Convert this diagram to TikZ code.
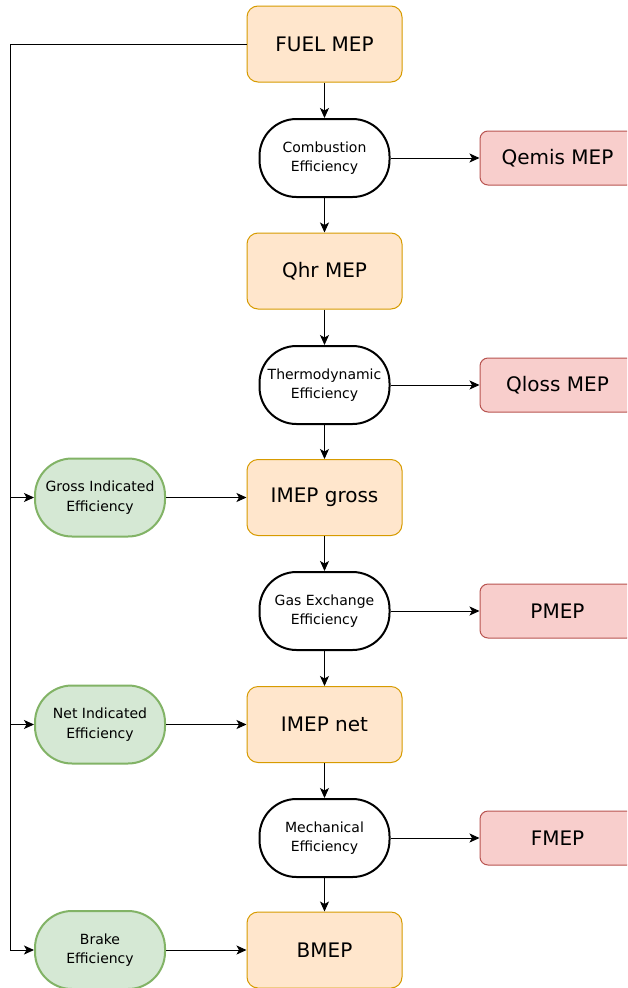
\documentclass[tikz,border=0pt]{standalone}
\usepackage{fontspec}
\setmainfont{DejaVu Sans}
\usetikzlibrary{arrows.meta,positioning}
\definecolor{mepfill}{HTML}{FFE6CC}
\definecolor{mepdraw}{HTML}{D79B00}
\definecolor{lossfill}{HTML}{F8CECC}
\definecolor{lossdraw}{HTML}{B85450}
\definecolor{efffill}{HTML}{D5E8D4}
\definecolor{effdraw}{HTML}{82B366}
\tikzset{
  mep/.style={draw=mepdraw, fill=mepfill, line width=1pt, rounded corners=11pt,
    minimum width=155pt, minimum height=76pt, inner sep=0pt,
    font=\fontsize{20pt}{24pt}\selectfont},
  loss/.style={draw=lossdraw, fill=lossfill, line width=1pt, rounded corners=8pt,
    minimum width=155pt, minimum height=54pt, inner sep=0pt,
    font=\fontsize{20pt}{24pt}\selectfont},
  stage/.style={draw=black, fill=white, line width=2pt, rounded corners=37pt,
    minimum width=130pt, minimum height=78pt, inner sep=0pt, align=center,
    font=\fontsize{14pt}{19.5pt}\selectfont},
  overall/.style={stage, draw=effdraw, fill=efffill},
  flow/.style={line width=1pt, -{Stealth[length=10pt,width=9pt,inset=2.5pt]}}
}
\begin{document}
\begin{tikzpicture}[x=1pt, y=-1pt]
\clip (0,0) rectangle (627,988);
\fill[white] (0,0) rectangle (627,988);

% main column of mean effective pressures
\node[mep] (fuel)  at (324.5,44)  {FUEL MEP};
\node[mep] (qhr)   at (324.5,271) {Qhr MEP};
\node[mep] (imepg) at (324.5,497.5) {IMEP gross};
\node[mep] (imepn) at (324.5,724.5) {IMEP net};
\node[mep] (bmep)  at (324.5,950) {BMEP};

% conversion stages between them
\node[stage] (comb)   at (324.5,158) {Combustion\\Efficiency};
\node[stage] (thermo) at (324.5,385) {Thermodynamic\\Efficiency};
\node[stage] (gasex)  at (324.5,611) {Gas Exchange\\Efficiency};
\node[stage] (mech)   at (324.5,838) {Mechanical\\Efficiency};

% losses branching off each stage
\node[loss] (qemis) at (557.5,158) {Qemis MEP};
\node[loss] (qloss) at (557.5,385) {Qloss MEP};
\node[loss] (pmep)  at (557.5,611) {PMEP};
\node[loss] (fmep)  at (557.5,838) {FMEP};

% overall efficiencies measured from fuel energy
\node[overall] (gross) at (100,497.5) {Gross Indicated\\Efficiency};
\node[overall] (net)   at (100,724.5) {Net Indicated\\Efficiency};
\node[overall] (brake) at (100,950) {Brake\\Efficiency};

% vertical flow
\draw[flow] (fuel) -- (comb);
\draw[flow] (comb) -- (qhr);
\draw[flow] (qhr) -- (thermo);
\draw[flow] (thermo) -- (imepg);
\draw[flow] (imepg) -- (gasex);
\draw[flow] (gasex) -- (imepn);
\draw[flow] (imepn) -- (mech);
\draw[flow] (mech) -- (bmep);

% losses
\draw[flow] (comb) -- (qemis);
\draw[flow] (thermo) -- (qloss);
\draw[flow] (gasex) -- (pmep);
\draw[flow] (mech) -- (fmep);

% overall efficiencies feed the indicated / brake values
\draw[flow] (gross) -- (imepg);
\draw[flow] (net) -- (imepn);
\draw[flow] (brake) -- (bmep);

% trunk line from fuel down the left side
\coordinate (ttop) at (10,44);
\coordinate (tgross) at (10,497.5);
\coordinate (tnet) at (10,724.5);
\draw[flow] (fuel.west) -- (ttop) |- (brake.west);
\draw[flow] (tgross) -- (gross.west);
\draw[flow] (tnet) -- (net.west);
\end{tikzpicture}
\end{document}
